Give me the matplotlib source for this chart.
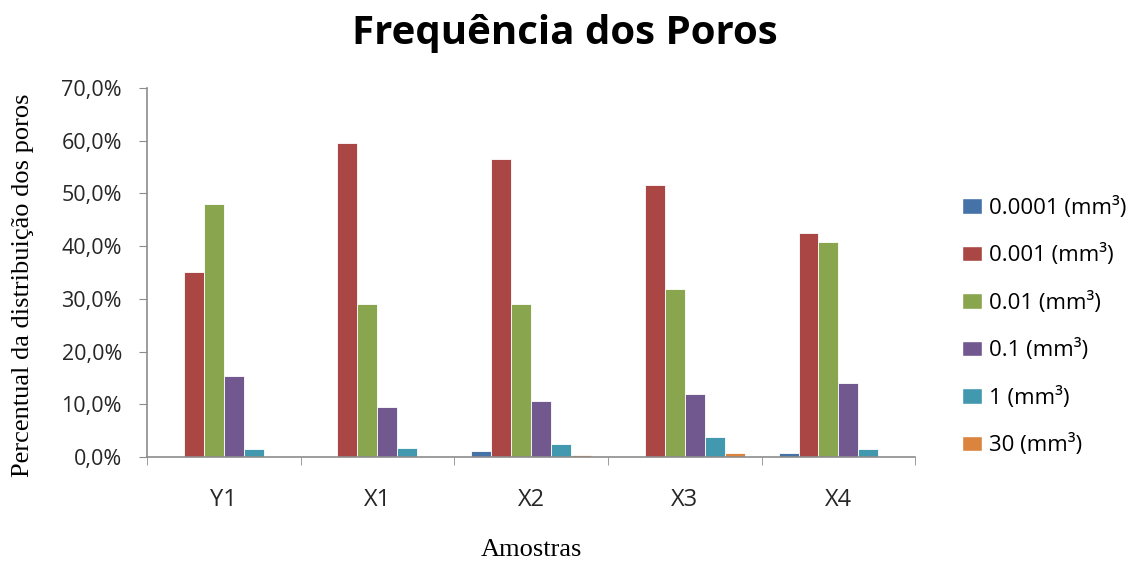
import matplotlib.pyplot as plt
import numpy as np
from matplotlib.ticker import FuncFormatter, FixedLocator
from matplotlib.patches import Patch

amostras = ['Y1', 'X1', 'X2', 'X3', 'X4']
series = ['0.0001 (mm³)', '0.001 (mm³)', '0.01 (mm³)', '0.1 (mm³)', '1 (mm³)', '30 (mm³)']

v_00001 = [0.0, 0.0, 1.1, 0.0, 0.8]
v_0001 = [35.0, 59.5, 56.6, 51.6, 42.4]
v_001 = [48.0, 29.1, 29.1, 31.9, 40.8]
v_01 = [15.4, 9.6, 10.6, 11.9, 14.0]
v_1 = [1.5, 1.7, 2.5, 3.9, 1.5]
v_30 = [0.0, 0.0, 0.4, 0.8, 0.0]
values = [v_00001, v_0001, v_001, v_01, v_1, v_30]

colors = ['#4572A7', '#AA4643', '#89A54E', '#71588F', '#4198AF', '#DB843D']

fig = plt.figure(figsize=(11.3, 5.63), dpi=100)
ax = fig.add_axes([0.130, 0.188, 0.680, 0.656])

x = np.arange(len(amostras))
w = 0.13
for i, (vals, c) in enumerate(zip(values, colors)):
    ax.bar(x + (i - 2.5) * w, vals, width=w, color=c, edgecolor='white', linewidth=0.6)

ax.set_xlim(-0.5, len(amostras) - 0.5)
ax.set_ylim(0, 70)
ax.set_yticks(np.arange(0, 71, 10))
ax.yaxis.set_major_formatter(FuncFormatter(lambda v, p: f'{v:.1f}%'.replace('.', ',')))
ax.set_xticks(x)
ax.set_xticklabels(amostras)
ax.xaxis.set_minor_locator(FixedLocator(np.arange(-0.5, len(amostras), 1.0)))
ax.tick_params(axis='x', which='major', length=0, pad=22, labelsize=17)
ax.tick_params(axis='x', which='minor', length=6, color='#8c8c8c', direction='out')
ax.tick_params(axis='y', length=6, color='#8c8c8c', direction='out', labelsize=15.5, pad=12)
for lbl in ax.get_xticklabels() + ax.get_yticklabels():
    lbl.set_family('Open Sans')
    lbl.set_color('#262626')

for s in ['top', 'right']:
    ax.spines[s].set_visible(False)
for s in ['left', 'bottom']:
    ax.spines[s].set_color('#8c8c8c')
    ax.spines[s].set_linewidth(1.2)

ax.set_ylabel('Percentual da distribuição dos poros', family='Liberation Serif', fontsize=19)
ax.yaxis.set_label_coords(-0.147, 0.465)
ax.set_xlabel('Amostras', family='Liberation Serif', fontsize=19, labelpad=20)
fig.suptitle('Frequência dos Poros', family='Open Sans', fontweight='bold', fontsize=29, y=0.975)

handles = [Patch(facecolor=c, edgecolor='white') for c in colors]
leg = fig.legend(handles, series, loc='center left', bbox_to_anchor=(0.834, 0.42), frameon=False,
                 prop={'family': 'Open Sans', 'size': 16}, labelspacing=1.15,
                 handlelength=0.9, handleheight=0.7, handletextpad=0.3)

fig.savefig('out.png', dpi=100)
